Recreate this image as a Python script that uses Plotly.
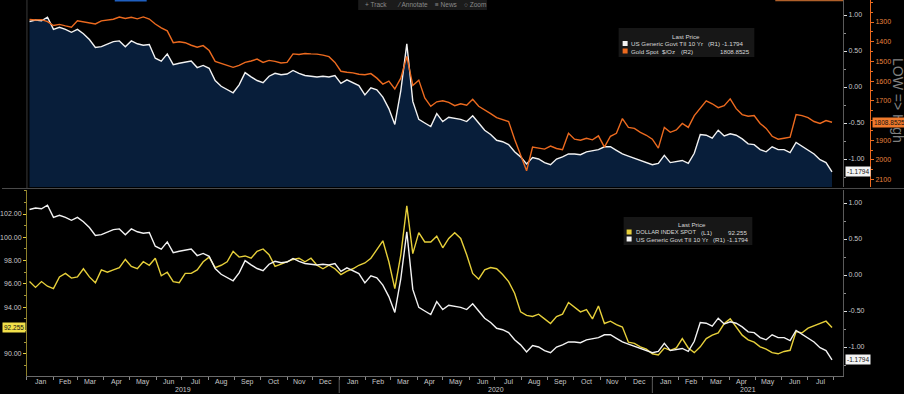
import plotly.graph_objects as go
import pandas as pd

# ---------------- data (weekly closes) ----------------
week_end = pd.date_range("2019-01-04", "2021-07-30", freq="W-FRI")

real_yield_10y = [
    # 2019
    0.91, 0.93, 0.92, 0.97,
    0.80, 0.83, 0.80, 0.76,
    0.80, 0.74, 0.66, 0.55, 0.56,
    0.60, 0.63, 0.64, 0.56,
    0.64, 0.60, 0.58, 0.59, 0.40,
    0.36, 0.46, 0.31, 0.33,
    0.34, 0.36, 0.27, 0.30,
    0.26, 0.09, 0.01, -0.04, -0.08,
    0.03, 0.20, 0.14, 0.09,
    0.06, 0.15, 0.19, 0.17,
    0.18, 0.23, 0.19, 0.16, 0.15,
    0.14, 0.15, 0.14, 0.16,
    # 2020
    0.05, 0.10, 0.06, 0.02, -0.11,
    -0.01, -0.04, -0.14, -0.30,
    -0.52, -0.05, 0.60, -0.20,
    -0.45, -0.50, -0.55, -0.37,
    -0.48, -0.42, -0.43, -0.45, -0.48,
    -0.40, -0.50, -0.60, -0.66,
    -0.74, -0.76, -0.80, -0.90, -0.97,
    -1.07, -0.98, -1.00, -1.05,
    -1.08, -1.00, -0.97, -0.93,
    -0.93, -0.94, -0.90, -0.89, -0.87,
    -0.83, -0.83, -0.88, -0.93,
    -0.96, -0.99, -1.02, -1.06,
    # 2021
    -1.08, -1.06, -0.95, -1.05, -1.03,
    -1.02, -1.06, -0.92, -0.66,
    -0.67, -0.71, -0.60, -0.68,
    -0.65, -0.67, -0.72, -0.79, -0.80,
    -0.87, -0.90, -0.83, -0.87,
    -0.87, -0.91, -0.77, -0.82,
    -0.88, -0.93, -1.01, -1.05, -1.1794,
]

gold_spot = [
    # 2019
    1287, 1290, 1288, 1298,
    1318, 1312, 1320, 1326,
    1294, 1300, 1306, 1310, 1294,
    1290, 1286, 1275, 1282,
    1276, 1284, 1274, 1285, 1310,
    1330, 1345, 1405, 1400,
    1405, 1418, 1428, 1420,
    1445, 1500, 1510, 1518, 1530,
    1520, 1505, 1498, 1488,
    1505, 1495, 1500, 1508,
    1505, 1462, 1465, 1460, 1462,
    1463, 1468, 1476, 1505,
    # 2020
    1550, 1555, 1558, 1565, 1568,
    1562, 1585, 1615, 1600,
    1640, 1585, 1475, 1622,
    1595, 1685, 1728, 1705,
    1700, 1708, 1725, 1715, 1722,
    1692, 1728, 1745, 1765,
    1785, 1795, 1805, 1895, 1975,
    2055, 1935, 1940, 1945,
    1930, 1942, 1948, 1865,
    1895, 1900, 1890, 1898, 1878,
    1935, 1880, 1865, 1790,
    1835, 1840, 1860, 1875,
    # 2021
    1895, 1940, 1835, 1860, 1848,
    1815, 1835, 1775, 1740,
    1700, 1715, 1735, 1725,
    1690, 1740, 1770, 1778, 1775,
    1815, 1840, 1880, 1895,
    1890, 1885, 1770, 1775,
    1785, 1805, 1815, 1800, 1808.8525,
]

dollar_index = [
    # 2019
    96.2, 95.7, 96.2, 95.8,
    95.6, 96.6, 96.9, 96.5,
    96.6, 97.3, 96.6, 96.1, 97.2,
    97.0, 97.2, 97.4, 98.1,
    97.5, 97.3, 97.9, 97.6, 98.2,
    96.7, 97.0, 96.2, 96.1,
    96.9, 96.9, 97.2, 97.9,
    98.3, 97.4, 97.6, 97.9, 98.8,
    98.3, 98.4, 98.2, 98.8,
    99.0, 98.5, 97.5, 97.7,
    97.9, 98.1, 98.2, 97.9, 98.2,
    97.6, 97.3, 97.6, 97.3,
    # 2020
    96.8, 97.1, 97.3, 97.6, 97.8,
    98.2, 98.9, 99.7, 97.9,
    95.6, 98.5, 102.7, 98.6,
    100.4, 99.6, 99.6, 100.1,
    99.1, 99.9, 100.4, 99.9, 98.5,
    96.9, 96.4, 97.2, 97.4,
    97.3, 96.8, 96.2, 95.2, 93.6,
    93.3, 93.2, 93.4, 93.0,
    92.6, 93.2, 93.4, 94.4,
    94.0, 93.6, 93.8, 93.0, 94.1,
    92.6, 92.8, 92.5, 92.3,
    91.0, 90.9, 90.6, 90.4,
    # 2021
    90.0, 89.9, 90.5, 90.3, 90.5,
    91.3, 90.5, 90.1, 90.6,
    91.3, 91.6, 91.8, 92.6,
    93.0, 92.3, 91.6, 91.2, 91.0,
    90.6, 90.4, 90.1, 90.0,
    90.2, 90.3, 91.9, 91.8,
    92.2, 92.4, 92.6, 92.8, 92.255,
]

yield_ticks = [1.0, 0.5, 0.0, -0.5, -1.0]
gold_ticks = [1300, 1400, 1500, 1600, 1700, 1800, 1900, 2000, 2100]
dxy_ticks = [90, 92, 94, 96, 98, 100, 102]
x_range = ["2019-01-01", "2021-08-12"]
years = ["2019", "2020", "2021"]

yield_name = "US Generic Govt TII 10 Yr"
gold_name = "Gold Spot  $/Oz"
dxy_name = "DOLLAR INDEX SPOT"

assert len(real_yield_10y) == len(week_end) == len(gold_spot) == len(dollar_index)

# ---------------- layout helpers ----------------
W, H = 904, 394
def px(x):
    return x / W
def py(y):
    return 1 - y / H

X0, X1 = 25, 843
TOP_Y0, TOP_Y1 = 0, 187
BOT_Y0, BOT_Y1 = 190, 376

WHITE = "#f2f2f2"
ORANGE = "#ec6a1f"
YELLOW = "#e6cf3a"
NAVY = "#081e3a"
GRID = "#5a5a5a"
TXT = "#c8c8c8"
LEG = "#d8d8d8"
FONT = "Liberation Sans"

# axis ranges (screen calibration)
top_yield_range = [(87 - TOP_Y1) / 72, (87 - TOP_Y0) / 72]
gold_range = [1300 + (TOP_Y1 - 22) / 0.197, 1300 + (TOP_Y0 - 22) / 0.197]
dxy_range = [102 - (BOT_Y1 - 214) / 11.65, 102 + (214 - BOT_Y0) / 11.65]
bot_yield_range = [(275 - BOT_Y1) / 72, (275 - BOT_Y0) / 72]

def fmt2(v):
    return f"{v:.2f}"

# DXY tick hidden under the last-price tag
hidden_dxy = min(dxy_ticks, key=lambda t: abs(t - dollar_index[-1]))
dxy_ticktext = ["" if t == hidden_dxy else fmt2(t) for t in dxy_ticks]

fig = go.Figure()

# baseline for the filled area (bottom of the top panel's axis)
fig.add_trace(go.Scatter(x=week_end, y=[top_yield_range[0]] * len(week_end),
                         mode="lines", line=dict(width=0), yaxis="y", xaxis="x",
                         showlegend=False, hoverinfo="skip"))
fig.add_trace(go.Scatter(x=week_end, y=real_yield_10y, mode="lines",
                         line=dict(color=WHITE, width=1.4), fill="tonexty",
                         fillcolor=NAVY, yaxis="y", xaxis="x", name=yield_name))
fig.add_trace(go.Scatter(x=week_end, y=gold_spot, mode="lines",
                         line=dict(color=ORANGE, width=1.4),
                         yaxis="y2", xaxis="x", name=gold_name))
fig.add_trace(go.Scatter(x=week_end, y=dollar_index, mode="lines",
                         line=dict(color=YELLOW, width=1.4),
                         yaxis="y3", xaxis="x2", name=dxy_name))
fig.add_trace(go.Scatter(x=week_end, y=real_yield_10y, mode="lines",
                         line=dict(color=WHITE, width=1.4),
                         yaxis="y4", xaxis="x2", name=yield_name))

tickfont = dict(family=FONT, size=7, color=TXT)

fig.update_layout(
    width=W, height=H, autosize=False,
    margin=dict(l=0, r=0, t=0, b=0),
    paper_bgcolor="black", plot_bgcolor="black",
    showlegend=False, hovermode=False,
    xaxis=dict(domain=[px(X0), px(X1)], range=x_range, anchor="y",
               showticklabels=False, showgrid=False, zeroline=False,
               showline=False, ticks=""),
    yaxis=dict(domain=[py(TOP_Y1), py(TOP_Y0)], range=top_yield_range,
               anchor="x", side="right", showgrid=False, zeroline=False,
               showline=True, linecolor=GRID, linewidth=1,
               tickvals=yield_ticks, ticktext=[fmt2(v) for v in yield_ticks],
               ticks="outside", ticklen=3, tickcolor="#e0e0e0",
               tickfont=tickfont,
               minor=dict(tickmode="linear", tick0=0, dtick=0.25,
                          ticks="outside", ticklen=2, tickcolor="#909090")),
    yaxis2=dict(overlaying="y", anchor="free", position=px(870), side="right",
                range=gold_range, showgrid=False, zeroline=False,
                showline=True, linecolor=ORANGE, linewidth=1,
                tickvals=gold_ticks, ticks="outside", ticklen=3,
                tickcolor=ORANGE,
                tickfont=dict(family=FONT, size=7, color="#e8823e"),
                minor=dict(tickmode="linear", tick0=1300, dtick=50,
                           ticks="outside", ticklen=2, tickcolor=ORANGE)),
    xaxis2=dict(domain=[px(X0), px(X1)], range=x_range, anchor="y3",
                type="date", tick0=x_range[0], dtick="M1",
                showticklabels=False,
                ticks="outside", ticklen=3, tickcolor="#8a8a8a",
                showline=True, linecolor="#6a6a6a", linewidth=1,
                showgrid=False, zeroline=False),
    yaxis3=dict(domain=[py(BOT_Y1), py(BOT_Y0)], range=dxy_range,
                anchor="x2", side="left", showgrid=False, zeroline=False,
                showline=True, linecolor="#8c7f2a", linewidth=1,
                tickvals=dxy_ticks, ticktext=dxy_ticktext,
                ticks="outside", ticklen=3, tickcolor=YELLOW,
                tickfont=tickfont,
                minor=dict(tickmode="linear", tick0=90, dtick=1,
                           ticks="outside", ticklen=2, tickcolor="#a89a3a")),
    yaxis4=dict(overlaying="y3", anchor="x2", side="right",
                range=bot_yield_range, showgrid=False, zeroline=False,
                showline=True, linecolor=GRID, linewidth=1,
                tickvals=yield_ticks, ticktext=[fmt2(v) for v in yield_ticks],
                ticks="outside", ticklen=3, tickcolor="#e0e0e0",
                tickfont=tickfont,
                minor=dict(tickmode="linear", tick0=0, dtick=0.25,
                           ticks="outside", ticklen=2, tickcolor="#909090")),
)

shapes = []
annotations = []

def rect(x0, y0, x1, y1, color):
    shapes.append(dict(type="rect", xref="paper", yref="paper",
                       x0=px(x0), x1=px(x1), y0=py(y1), y1=py(y0),
                       fillcolor=color, line=dict(width=0), layer="above"))

def hline(x0, x1, y, color, width=1):
    shapes.append(dict(type="line", xref="paper", yref="paper",
                       x0=px(x0), x1=px(x1), y0=py(y), y1=py(y),
                       line=dict(color=color, width=width), layer="above"))

def vline(x, y0, y1, color, width=1):
    shapes.append(dict(type="line", xref="paper", yref="paper",
                       x0=px(x), x1=px(x), y0=py(y0), y1=py(y1),
                       line=dict(color=color, width=width), layer="above"))

def text(x, y, s, size=6.2, color=TXT, xanchor="left", **kw):
    annotations.append(dict(xref="paper", yref="paper", x=px(x), y=py(y),
                            text=s, showarrow=False, xanchor=xanchor,
                            yanchor="middle", borderpad=0,
                            font=dict(family=FONT, size=size, color=color), **kw))

# panel separator & left axis of top panel
hline(0, W, 188.5, "#4a4a4a")
vline(X0, 0, 188, "#3a3a3a")

# toolbar strip at top
rect(357, 0, 486, 10, "#1b1b1b")
text(363, 5, "+ Track", color="#8a8a8a", size=6.5)
text(395, 5, "⁄ Annotate", color="#8a8a8a", size=6.5)
text(433, 5, "≡ News", color="#8a8a8a", size=6.5)
text(462, 5, "○ Zoom", color="#8a8a8a", size=6.5)
rect(113, 0, 145, 1.5, "#1f5fbf")
rect(775, 0, 843, 1.2, "#b0602a")

# rotated right-hand title (drawn under the last-price tags)
text(898, 100, "LOW => High", size=14, color="#808080", xanchor="center",
     textangle=90)

# top legend
rect(618, 28, 754, 57, "#171717")
text(686, 36, "Last Price", xanchor="center", color=LEG)
rect(622, 41, 627, 46, WHITE)
text(629, 43.5, yield_name, color=LEG)
text(707, 43.5, "(R1)", color=LEG)
text(745, 43.5, f"{real_yield_10y[-1]:.4f}", color=LEG, xanchor="right")
rect(622, 48.5, 627, 53.5, ORANGE)
text(629, 51, gold_name, color=LEG)
text(680, 51, "(R2)", color=LEG)
text(751, 51, f"{gold_spot[-1]:.4f}", color=LEG, xanchor="right")

# bottom legend
rect(623, 217, 752, 245, "#171717")
text(692, 224, "Last Price", xanchor="center", color=LEG)
rect(626, 229.5, 631, 234.5, YELLOW)
text(634, 232, dxy_name, color=LEG, size=5.8)
text(700, 232, "(L1)", color=LEG)
text(748, 232, f"{dollar_index[-1]:.3f}", color=LEG, xanchor="right")
rect(626, 236.5, 631, 241.5, WHITE)
text(634, 239, yield_name, color=LEG)
text(712, 239, "(R1)", color=LEG)
text(750, 239, f"{real_yield_10y[-1]:.4f}", color=LEG, xanchor="right")

# last-value tags
def tag(x, yref, yval, s, bg, xanchor="left"):
    annotations.append(dict(xref="paper", yref=yref, x=px(x), y=yval, text=s,
                            showarrow=False, xanchor=xanchor, yanchor="middle",
                            bgcolor=bg, borderpad=1,
                            font=dict(family=FONT, size=6.5, color="#111111")))

tag(845, "y", real_yield_10y[-1], f"{real_yield_10y[-1]:.4f}", "#f4f4f4")
tag(872, "y2", gold_spot[-1], f"{gold_spot[-1]:.4f}", "#f07a2c")
tag(845, "y4", real_yield_10y[-1], f"{real_yield_10y[-1]:.4f}", "#f4f4f4")
tag(24, "y3", dollar_index[-1], f"{dollar_index[-1]:.3f}", "#f2e04a", xanchor="right")

# month labels (mid-month), year labels & separators
xr0, xr1 = pd.Timestamp(x_range[0]), pd.Timestamp(x_range[1])
for m in pd.date_range(x_range[0], x_range[1], freq="MS"):
    nxt = m + pd.offsets.MonthBegin(1)
    mid = m + (nxt - m) / 2
    if mid <= xr1:
        annotations.append(dict(xref="x2", yref="paper", x=mid, y=py(381.5),
                                text=m.strftime("%b"), showarrow=False,
                                xanchor="center", yanchor="middle",
                                font=dict(family=FONT, size=7, color=TXT)))
for yr in years:
    a = max(pd.Timestamp(f"{yr}-01-01"), xr0)
    b = min(pd.Timestamp(f"{int(yr) + 1}-01-01"), xr1)
    mid = a + (b - a) / 2
    annotations.append(dict(xref="x2", yref="paper", x=mid, y=py(389), text=yr,
                            showarrow=False, xanchor="center", yanchor="middle",
                            font=dict(family=FONT, size=7, color=TXT)))
    if pd.Timestamp(f"{yr}-01-01") > xr0:
        shapes.append(dict(type="line", xref="x2", yref="paper",
                           x0=f"{yr}-01-01", x1=f"{yr}-01-01",
                           y0=py(378), y1=py(393),
                           line=dict(color="#5a5a5a", width=1)))

fig.update_layout(shapes=shapes, annotations=annotations)
fig.write_html("out.html", config={"displayModeBar": False},
               post_script="document.body.style.margin='0';"
                           "document.body.style.overflow='hidden';")
